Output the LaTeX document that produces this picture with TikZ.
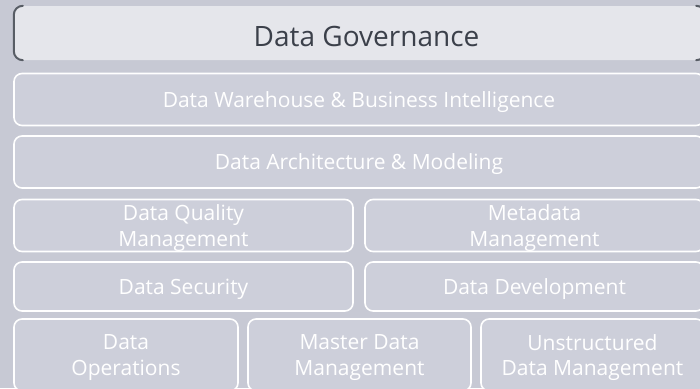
\documentclass[tikz,border=0pt]{standalone}
\usepackage{fontspec}
\setmainfont{Open Sans}
\usetikzlibrary{positioning}
\definecolor{bgcol}{HTML}{C7C9D4}
\definecolor{boxcol}{HTML}{CDCFDA}
\definecolor{govcol}{HTML}{E5E6EB}
\definecolor{inkcol}{HTML}{3B404A}
\tikzset{
x=1pt, y=-1pt,
govbox/.style={fill=govcol, rounded corners=8pt, minimum width=691pt, minimum height=54pt, inner sep=0pt},
bracket/.style={draw=inkcol!85, line width=2pt, line cap=round},
layer/.style={draw=white, line width=1.6pt, fill=boxcol, rounded corners=8pt, inner sep=0pt, text depth=0pt, align=center, text=white, font=\fontsize{21}{25.5}\selectfont},
wide/.style={layer, minimum width=690pt, minimum height=52pt},
half/.style={layer, minimum width=339pt, minimum height=52pt},
third/.style={layer, minimum width=223pt, minimum height=72pt},
}

\begin{document}
\begin{tikzpicture}
    \fill[bgcol] (0,0) rectangle (700,388);
    \useasboundingbox (0,0) rectangle (700,388);
    \clip (0,0) rectangle (700,388);
    \node[govbox] (gov) at (359.5,33) {};
    \node[text=inkcol, font=\fontsize{28}{32}\selectfont] (govtext) at (366.5,36) {Data Governance};
    \draw[bracket] ([xshift=9pt]gov.north west) to[out=180,in=90] ([yshift=-9pt]gov.north west) -- ([yshift=9pt]gov.south west) to[out=-90,in=180] ([xshift=9pt]gov.south west);
    \draw[bracket] ([xshift=-9pt]gov.north east) to[out=0,in=90] ([yshift=-9pt]gov.north east) -- ([yshift=9pt]gov.south east) to[out=-90,in=0] ([xshift=-9pt]gov.south east);
    \node[wide] (dwbi) at (359,99.5) {Data Warehouse \& Business Intelligence};
    \node[wide] (arch) at (359,162) {Data Architecture \& Modeling};
    \node[half] (dqm) at (183.5,225.5) {Data Quality\\Management};
    \node[half] (meta) at (534.5,225.5) {Metadata\\Management};
    \node[half, minimum height=49pt] (sec) at (183.5,286.5) {Data Security};
    \node[half, minimum height=49pt] (dev) at (534.5,286.5) {Data Development};
    \node[third, minimum width=224pt] (ops) at (126,355) {Data\\Operations};
    \node[third] (mdm) at (359.5,355) {Master Data\\Management};
    \node[third] (udm) at (592.5,355) {Unstructured\\Data Management};
  \end{tikzpicture}
\end{document}
